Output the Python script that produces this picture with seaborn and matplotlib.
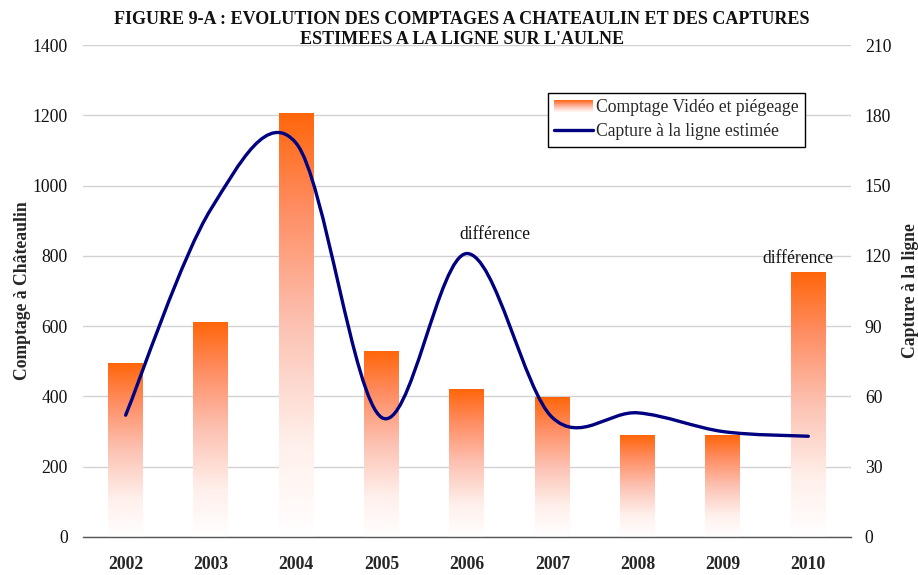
import numpy as np
import pandas as pd
import matplotlib
matplotlib.use("Agg")
import matplotlib.pyplot as plt
from matplotlib.colors import LinearSegmentedColormap
from matplotlib.path import Path
from matplotlib.patches import PathPatch, Rectangle
from matplotlib.lines import Line2D
from matplotlib.legend_handler import HandlerBase
import seaborn as sns

# --- data -------------------------------------------------------------
years = ["2002", "2003", "2004", "2005", "2006", "2007", "2008", "2009", "2010"]
comptage = [495, 609, 1204, 529, 421, 396, 290, 290, 754]      # left axis
capture = [52, 140, 168, 51, 121, 51, 53, 45, 43]               # right axis
left_ticks = [0, 200, 400, 600, 800, 1000, 1200, 1400]
right_ticks = [0, 30, 60, 90, 120, 150, 180, 210]
note_text = "différence"
note_years = ["2006", "2010"]

df = pd.DataFrame({"annee": years, "comptage": comptage})

sns.set_theme(style="white")
plt.rcParams["font.family"] = ["Liberation Serif", "DejaVu Serif"]

FS = 12.7

fig = plt.figure(figsize=(9.18, 5.75), dpi=100)
ax = fig.add_axes([0.0904, 0.0661, 0.8366, 0.8556])

sns.barplot(data=df, x="annee", y="comptage", ax=ax, width=0.41,
            color="#FF6600", linewidth=0, zorder=2)

# orange-to-white vertical gradient inside each bar
grad_cmap = LinearSegmentedColormap.from_list(
    "orange_fade",
    [(0.0, (1.0, 1.0, 1.0)),
     (0.22, (1.0, 0.94, 0.92)),
     (0.5, (0.99, 0.76, 0.70)),
     (0.78, (1.0, 0.55, 0.38)),
     (1.0, (1.0, 0.40, 0.04))])
grad = np.linspace(0, 1, 256).reshape(-1, 1)
for bar in list(ax.patches):
    x0, w, h = bar.get_x(), bar.get_width(), bar.get_height()
    ax.imshow(grad, extent=[x0, x0 + w, 0, h], origin="lower",
              aspect="auto", cmap=grad_cmap, zorder=2, interpolation="bilinear")
    bar.set_facecolor("none")

ax.set_xlim(-0.5, len(years) - 0.5)
ax.set_ylim(0, 1400)
ax.set_yticks(left_ticks)
ax.yaxis.grid(True, color="#D2D2D2", linewidth=1.0)
ax.set_axisbelow(True)
for s in ["left", "right", "top"]:
    ax.spines[s].set_visible(False)
ax.spines["bottom"].set_color("#555555")
ax.spines["bottom"].set_linewidth(1.0)
ax.set_xlabel("")
ax.set_ylabel("Comptage à Châteaulin", fontsize=FS, fontweight="bold", labelpad=1)
ax.tick_params(axis="y", length=0, pad=11, labelsize=FS, labelcolor="#111111")
ax.tick_params(axis="x", which="major", length=0, pad=14, labelsize=FS)
for lab in ax.get_xticklabels():
    lab.set_fontweight("bold")
ax.set_xticks(np.arange(-0.5, len(years), 1.0), minor=True)
ax.tick_params(axis="x", which="minor", length=5, width=1, color="#555555",
               direction="out")

# --- right axis: smoothed capture curve -------------------------------
ax2 = ax.twinx()
ax2.set_ylim(0, 210)
ax2.set_yticks(right_ticks)
for s in ax2.spines.values():
    s.set_visible(False)
ax2.tick_params(axis="y", length=0, pad=10, labelsize=FS, labelcolor="#111111")
ax2.set_ylabel("Capture à la ligne", fontsize=FS, fontweight="bold",
               rotation=90, labelpad=8)
ax2.grid(False)

xs = np.arange(len(capture), dtype=float)
ys = np.asarray(capture, dtype=float)
verts = [(xs[0], ys[0])]
codes = [Path.MOVETO]
n = len(xs)
for i in range(n - 1):
    p0 = np.array([xs[max(i - 1, 0)], ys[max(i - 1, 0)]])
    p1 = np.array([xs[i], ys[i]])
    p2 = np.array([xs[i + 1], ys[i + 1]])
    p3 = np.array([xs[min(i + 2, n - 1)], ys[min(i + 2, n - 1)]])
    c1 = p1 + (p2 - p0) / 6.0
    c2 = p2 - (p3 - p1) / 6.0
    verts += [tuple(c1), tuple(c2), tuple(p2)]
    codes += [Path.CURVE4] * 3
curve = PathPatch(Path(verts, codes), facecolor="none", edgecolor="#000080",
                  linewidth=2.4, capstyle="round", joinstyle="round", zorder=4)
ax2.add_patch(curve)
ax2.set_xlim(-0.5, len(years) - 0.5)

# notes above the curve
note_pos = {"2006": (0.33, 129), "2010": (-0.12, 119)}
for yr in note_years:
    dx, yv = note_pos[yr]
    ax2.text(years.index(yr) + dx, yv, note_text, ha="center", va="center",
             fontsize=FS, color="#111111")


# --- legend with a gradient swatch ------------------------------------
class GradientHandler(HandlerBase):
    def create_artists(self, legend, orig_handle, xdescent, ydescent,
                       width, height, fontsize, trans):
        arts = []
        steps = 12
        for k in range(steps):
            frac = (k + 0.5) / steps
            r = Rectangle((xdescent * -1, -ydescent + height * k / steps),
                          width, height / steps + 0.3,
                          facecolor=grad_cmap(0.15 + 0.85 * frac),
                          edgecolor="none", transform=trans)
            arts.append(r)
        return arts


bar_handle = Rectangle((0, 0), 1, 1)
line_handle = Line2D([0], [0], color="#000080", linewidth=2.4)
leg = ax2.legend([bar_handle, line_handle],
                 ["Comptage Vidéo et piégeage", "Capture à la ligne estimée"],
                 handler_map={Rectangle: GradientHandler()},
                 loc="upper left", bbox_to_anchor=(0.605, 0.902),
                 fontsize=FS, frameon=True, fancybox=False, framealpha=1,
                 edgecolor="#000000", handlelength=2.2, handletextpad=0.2,
                 borderpad=0.35, labelspacing=0.4, borderaxespad=0)
leg.get_frame().set_linewidth(1.0)

# --- title ------------------------------------------------------------
fig.text(0.503, 0.949,
         "FIGURE 9-A : EVOLUTION DES COMPTAGES A CHATEAULIN ET DES CAPTURES\n"
         "ESTIMEES A LA LIGNE SUR L'AULNE",
         ha="center", va="center", fontsize=13, fontweight="bold",
         linespacing=1.22, color="#111111")

fig.savefig("out.png", dpi=100)
